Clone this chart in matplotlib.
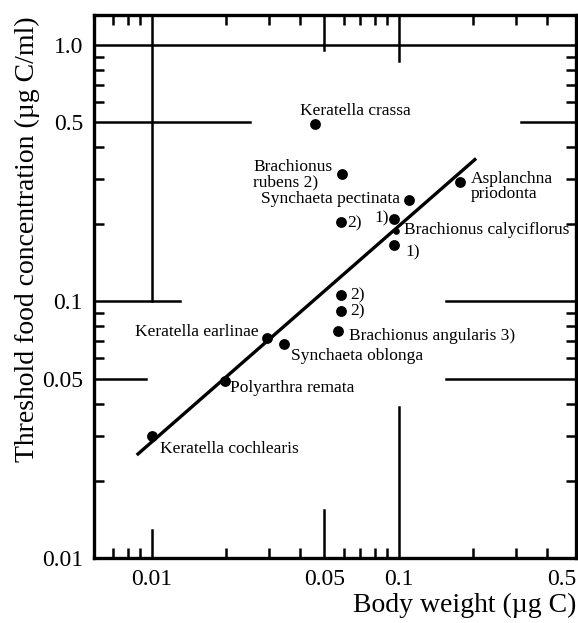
import matplotlib
matplotlib.use("Agg")
import matplotlib.pyplot as plt
import matplotlib.transforms as mtransforms

plt.rcParams['font.family'] = ['Liberation Serif', 'DejaVu Serif']

# values (body weight in ug C, threshold in ug C/ml)
labels = ["Keratella crassa", "Brachionus\nrubens 2)", "Synchaeta pectinata", "2)", "1)",
          "Brachionus calyciflorus", "1)", "Asplanchna\npriodonta", "2)", "2)",
          "Brachionus angularis 3)", "Synchaeta oblonga", "Keratella earlinae",
          "Polyarthra remata", "Keratella cochlearis"]
body_weight = [0.046, 0.059, 0.110, 0.0587, 0.096, 0.0977, 0.096, 0.177, 0.0587, 0.0587,
               0.0569, 0.0344, 0.0293, 0.0198, 0.0100]
threshold = [0.494, 0.313, 0.248, 0.205, 0.210, 0.188, 0.166, 0.292, 0.106, 0.0917,
             0.0766, 0.0684, 0.0719, 0.0491, 0.030]

# regression line end points
fit_x = [0.0087, 0.206]
fit_y = [0.0252, 0.361]

x_ticks = [0.01, 0.05, 0.1, 0.5]
x_ticklabels = ["0.01", "0.05", "0.1", "0.5"]
y_ticks = [0.01, 0.05, 0.1, 0.5, 1.0]
y_ticklabels = ["0.01", "0.05", "0.1", "0.5", "1.0"]
x_minor = [0.007, 0.008, 0.009, 0.02, 0.03, 0.04, 0.06, 0.07, 0.08, 0.09, 0.2, 0.3, 0.4]
y_minor = [0.02, 0.03, 0.04, 0.06, 0.07, 0.08, 0.09, 0.2, 0.3, 0.4, 0.6, 0.7, 0.8, 0.9]

# label placement: offset in points (dx, dy) and alignment
offsets = [(29, 9), (-7, 0), (-6, 1), (4, -1.5), (-4, 0.5), (6, 0.5), (8, -5), (8, -3),
           (6, 0), (6, -0.5), (8, -3.5), (5, -8.5), (-6, 4.5), (4, -5), (6, -9.5)]
aligns = ["center", "right", "right", "left", "right", "left", "left", "left",
          "left", "left", "left", "left", "right", "left", "left"]
sizes = [7.8] * len(labels)
sizes[5] = 4.8

fig = plt.figure(figsize=(5.78, 6.23), dpi=100)
ax = fig.add_axes([94 / 578, 65 / 623, 482 / 578, 543 / 623])
ax.set_xscale("log")
ax.set_yscale("log")
ax.set_xlim(0.00584, 0.523)
ax.set_ylim(0.01, 1.309)

lw_long = 1.8
# long major tick lines
ax.axhline(1.0, color="black", lw=lw_long)
hl_y = [0.5, 0.1, 0.05]
hl_left_end = [0.0251, 0.0130, 0.0095]
hl_right_start = [0.313, 0.156, 0.156]
for yv, le, rs in zip(hl_y, hl_left_end, hl_right_start):
    ax.plot([0.00584, le], [yv, yv], color="black", lw=lw_long)
    ax.plot([rs, 0.523], [yv, yv], color="black", lw=lw_long)
vl_x = [0.01, 0.05, 0.1]
vl_top_end = [0.1, 0.956, 0.866]
vl_bottom_end = [0.0129, 0.0154, 0.0389]
for xv, te, be in zip(vl_x, vl_top_end, vl_bottom_end):
    ax.plot([xv, xv], [te, 1.309], color="black", lw=lw_long)
    ax.plot([xv, xv], [0.01, be], color="black", lw=lw_long)

ax.plot(fit_x, fit_y, color="black", lw=2.4, solid_capstyle="butt")

for i in range(len(labels)):
    ax.plot(body_weight[i], threshold[i], "o", color="black", ms=sizes[i], mew=0)
    ax.annotate(labels[i], (body_weight[i], threshold[i]), xytext=offsets[i],
                textcoords="offset points", ha=aligns[i], va="center",
                multialignment="left", fontsize=12.5, linespacing=0.95)

ax.set_xticks(x_ticks)
ax.set_xticklabels(x_ticklabels)
ax.set_yticks(y_ticks)
ax.set_yticklabels(y_ticklabels)
ax.set_xticks(x_minor, minor=True)
ax.set_yticks(y_minor, minor=True)
ax.xaxis.set_minor_formatter(matplotlib.ticker.NullFormatter())
ax.yaxis.set_minor_formatter(matplotlib.ticker.NullFormatter())
ax.tick_params(which="major", length=0, labelsize=17, pad=8)
ax.tick_params(which="minor", direction="in", length=7, width=1.8,
               top=True, right=True, bottom=True, left=True)

# last x tick label sits against the right edge
last = ax.get_xticklabels()[-1]
last.set_horizontalalignment("right")
last.set_transform(last.get_transform() + mtransforms.ScaledTranslation(4 / 72, 0, fig.dpi_scale_trans))

for s in ax.spines.values():
    s.set_linewidth(2.4)

fig.text(27 / 578, 1 - 239 / 623, "Threshold food concentration (µg C/ml)",
         rotation=90, ha="center", va="center", fontsize=20)
fig.text(576 / 578, 1 - 605 / 623, "Body weight (µg C)", ha="right", va="center", fontsize=20)

plt.savefig("out.png", dpi=100)
plt.close()
